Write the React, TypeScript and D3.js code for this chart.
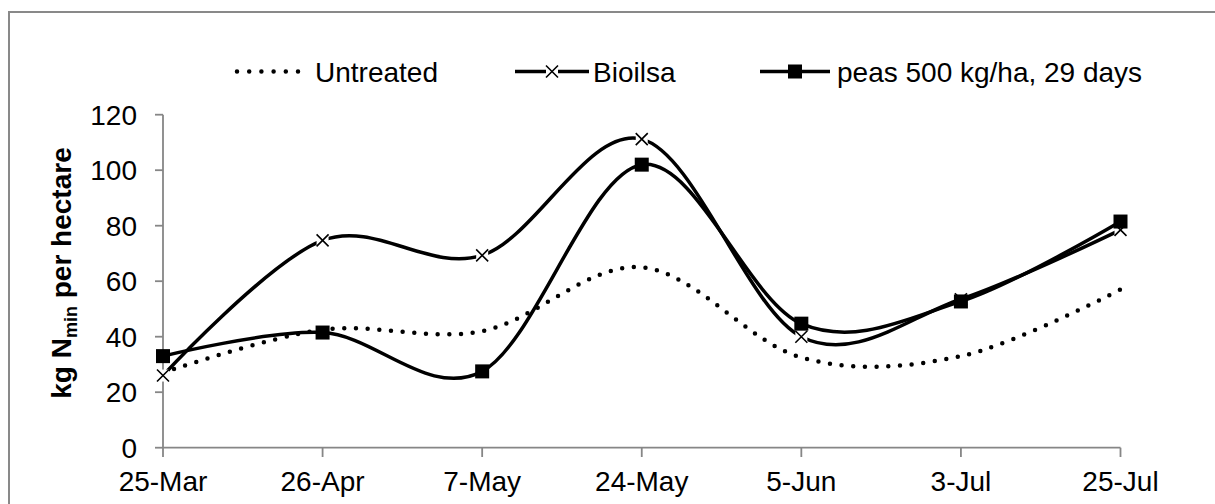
import React from "react";
import * as d3 from "d3";

const categories = ["25-Mar", "26-Apr", "7-May", "24-May", "5-Jun", "3-Jul", "25-Jul"];
const untreated = [27, 42.5, 42, 65, 32.5, 33, 57];
const bioilsa = [26, 74.7, 69.3, 111.2, 40, 53.5, 78.5];
const peas = [33, 41.5, 27.5, 102, 44.7, 52.7, 81.5];
const yTicks = [0, 20, 40, 60, 80, 100, 120];
const seriesNames = ["Untreated", "Bioilsa", "peas 500 kg/ha, 29 days"];

const W = 1215;
const H = 504;
const FONT = "'Liberation Sans', Arial, sans-serif";
const AXIS = "#868686";

export default function App() {
  const x = d3.scalePoint<string>().domain(categories).range([163, 1120.5]);
  const y = d3.scaleLinear().domain([0, 120]).range([447.7, 114.7]);
  const line = d3
    .line<number>()
    .x((_, i) => x(categories[i]) as number)
    .y((d) => y(d))
    .curve(d3.curveCardinal.tension(0));

  const xMark = (cx: number, cy: number, key: string) => (
    <g key={key}>
      <rect x={cx - 6} y={cy - 6} width={12} height={12} fill="#fff" />
      <path
        d={`M${cx - 6},${cy - 6}L${cx + 6},${cy + 6}M${cx - 6},${cy + 6}L${cx + 6},${cy - 6}`}
        stroke="#000"
        strokeWidth={1.6}
      />
    </g>
  );
  const sqMark = (cx: number, cy: number, key: string) => (
    <rect key={key} x={cx - 7} y={cy - 7} width={14} height={14} fill="#000" />
  );

  return (
    <svg
      width={W}
      height={H}
      style={{ position: "absolute", left: 0, top: 0, background: "#fff" }}
      fontFamily={FONT}
    >
      <rect x={0} y={0} width={W} height={H} fill="#fff" />
      {/* outer chart border */}
      <rect x={9} y={12} width={1300} height={700} fill="none" stroke="#898989" strokeWidth={2} />

      {/* legend */}
      <g fontSize={28} fill="#000">
        <line x1={237} x2={298} y1={71.5} y2={71.5} stroke="#000" strokeWidth={4.5} strokeLinecap="round" strokeDasharray="0 12.2" />
        <text x={315} y={81.5}>{seriesNames[0]}</text>
        <line x1={515} x2={589} y1={71.5} y2={71.5} stroke="#000" strokeWidth={3.5} />
        {xMark(552, 71.5, "lx")}
        <text x={593} y={81.5}>{seriesNames[1]}</text>
        <line x1={760} x2={830} y1={71.5} y2={71.5} stroke="#000" strokeWidth={3.5} />
        {sqMark(795, 71.5, "ls")}
        <text x={837} y={81.5}>{seriesNames[2]}</text>
      </g>

      {/* axes */}
      <line x1={163} x2={163} y1={114.7} y2={447.7} stroke={AXIS} strokeWidth={1.8} />
      {yTicks.map((t) => (
        <g key={"y" + t}>
          <line x1={155} x2={163} y1={y(t)} y2={y(t)} stroke={AXIS} strokeWidth={1.8} />
          <text x={137} y={y(t) + 10} textAnchor="end" fontSize={28}>
            {t}
          </text>
        </g>
      ))}
      <line x1={163} x2={1120.5} y1={447.7} y2={447.7} stroke={AXIS} strokeWidth={1.8} />
      {categories.map((c) => (
        <g key={c}>
          <line x1={x(c)} x2={x(c)} y1={447.7} y2={457} stroke={AXIS} strokeWidth={1.8} />
          <text x={x(c)} y={491} textAnchor="middle" fontSize={28}>
            {c}
          </text>
        </g>
      ))}

      {/* y title */}
      <text
        transform="translate(71,273) rotate(-90)"
        textAnchor="middle"
        fontSize={28}
        fontWeight="bold"
      >
        kg N
        <tspan fontSize={18} dy={6}>min</tspan>
        <tspan dy={-6}> per hectare</tspan>
      </text>

      {/* series */}
      <path d={line(untreated) || ""} fill="none" stroke="#000" strokeWidth={4.5} strokeLinecap="round" strokeDasharray="0 11.7" />
      <path d={line(bioilsa) || ""} fill="none" stroke="#000" strokeWidth={3.5} />
      {bioilsa.map((v, i) => xMark(x(categories[i]) as number, y(v), "bx" + i))}
      <path d={line(peas) || ""} fill="none" stroke="#000" strokeWidth={3.5} />
      {peas.map((v, i) => sqMark(x(categories[i]) as number, y(v), "ps" + i))}
    </svg>
  );
}
